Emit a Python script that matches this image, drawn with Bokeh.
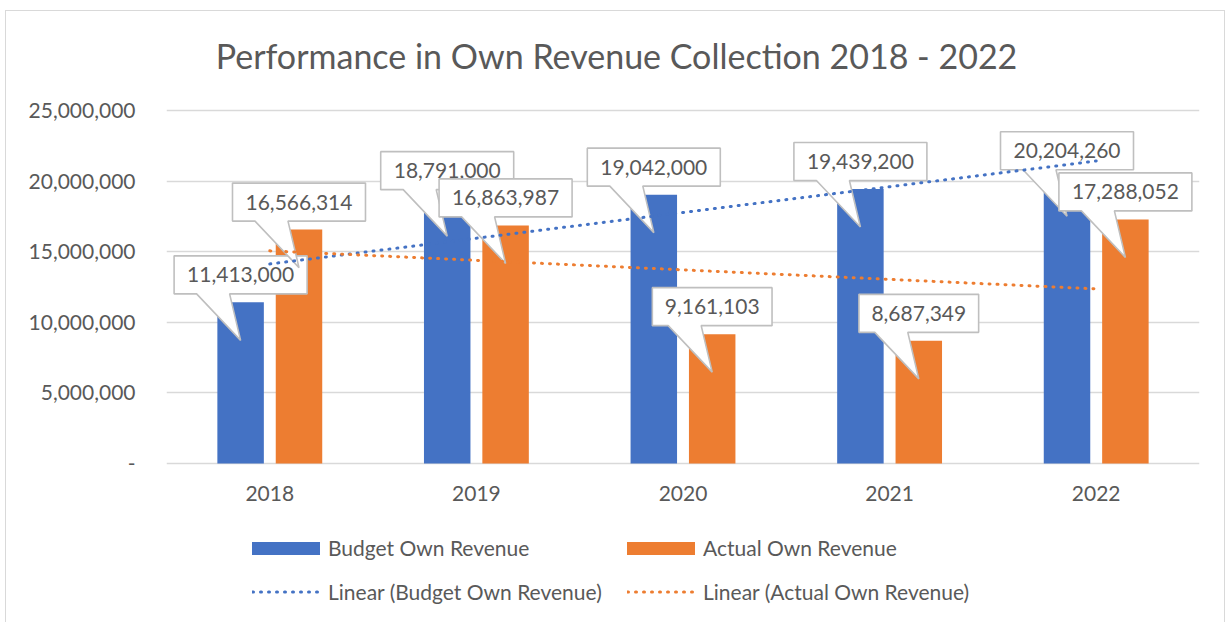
import numpy as np
from bokeh.plotting import figure
from bokeh.models import Range1d, NumeralTickFormatter, Legend, LegendItem, ColumnDataSource, Label
from bokeh.core.properties import value
from bokeh.embed import file_html
from bokeh.resources import INLINE

# ---------------- data ----------------
years = ["2018", "2019", "2020", "2021", "2022"]
budget = [11413000, 18791000, 19042000, 19439200, 20204260]
actual = [16566314, 16863987, 9161103, 8687349, 17288052]
y_ticks = [0, 5000000, 10000000, 15000000, 20000000, 25000000]
series_names = ["Budget Own Revenue", "Actual Own Revenue"]
trend_names = ["Linear (Budget Own Revenue)", "Linear (Actual Own Revenue)"]
TITLE = "Performance in Own Revenue Collection 2018 - 2022"

# ---------------- style ----------------
BLUE = "#4472C4"
ORANGE = "#ED7D31"
TXT = "#595959"
GRID = "#D9D9D9"
BOX_LINE = "#BFBFBF"
FONT = "Lato"
FS = "21px"

W, H = 1220, 612
ML, MR = 160, 27
FW = W - ML - MR          # 1033
TOP_PX = 99               # pixels from canvas top to the 25M gridline
VAL_PX = 353              # pixels covering 0 .. YMAX
YMAX = 25000000
n = len(years)
PXX = n / FW              # data units per pixel (x)
PXY = YMAX / VAL_PX       # data units per pixel (y)
Y_TOP = YMAX + TOP_PX * PXY
Y_BOT = -(H - TOP_PX - VAL_PX) * PXY

xs = np.arange(1, n + 1)
OFF = 0.1413
BW = 0.225

p = figure(width=W, height=H, output_backend="svg", toolbar_location=None,
           x_range=Range1d(0.5, n + 0.5), y_range=Range1d(Y_BOT, Y_TOP),
           min_border_left=ML, min_border_right=MR, min_border_top=0, min_border_bottom=0)
p.styles = {"border-top": "1px solid #D9D9D9", "border-left": "1px solid #D9D9D9",
            "border-right": "1px solid #D9D9D9",
            "margin-left": "5px", "margin-top": "10px"}
p.outline_line_color = None
p.background_fill_color = "white"
p.border_fill_color = "white"

# title (drawn inside the extended frame, centred on the whole chart)
title_x = 0.5 + (W / 2 - ML) * PXX
title_y = YMAX + (TOP_PX - 44) * PXY
p.add_layout(Label(x=title_x, y=title_y, text=TITLE, text_align="center",
                   text_baseline="middle", text_font=FONT, text_font_size="34px",
                   text_color=TXT))

# axes
p.xgrid.grid_line_color = None
p.ygrid.grid_line_color = GRID
p.ygrid.grid_line_width = 1.3
p.yaxis.ticker = y_ticks
p.yaxis.formatter = NumeralTickFormatter(format="0,0")
p.yaxis.major_label_overrides = {0: "-"}
p.xaxis.ticker = list(xs)
p.xaxis.major_label_overrides = {int(i): y for i, y in zip(xs, years)}
p.xaxis.fixed_location = 0
for ax in (p.xaxis[0], p.yaxis[0]):
    ax.axis_line_color = None
    ax.major_tick_line_color = None
    ax.minor_tick_line_color = None
    ax.major_tick_out = 0
    ax.major_tick_in = 0
    ax.major_label_text_font = FONT
    ax.major_label_text_font_size = FS
    ax.major_label_text_color = TXT
p.yaxis.major_label_standoff = 31
p.xaxis.major_label_standoff = 22

# bars
src_b = ColumnDataSource(dict(x=xs - OFF, top=budget))
src_a = ColumnDataSource(dict(x=xs + OFF, top=actual))
rb = p.vbar(x="x", top="top", bottom=0, width=BW, source=src_b, fill_color=BLUE, line_color=None)
ra = p.vbar(x="x", top="top", bottom=0, width=BW, source=src_a, fill_color=ORANGE, line_color=None)


# callouts
def callouts(xc_list, vals):
    px, py, tx, ty, labs = [], [], [], [], []
    for xc, v in zip(xc_list, vals):
        lab = f"{v:,}"
        half = 6.65 * len(lab) * PXX
        b = v + 8.5 * PXY
        t = b + 38 * PXY
        tip = v - 38 * PXY
        w0 = xc - 44 * PXX
        w1 = xc - 11 * PXX
        px.append([xc - half, w0, xc, w1, xc + half, xc + half, xc - half])
        py.append([b, b, tip, b, b, t, t])
        tx.append(xc)
        ty.append((b + t) / 2)
        labs.append(lab)
    p.patches(xs=px, ys=py, fill_color="white", line_color=BOX_LINE, line_width=1.6)
    p.text(x=tx, y=ty, text=labs, text_align="center", text_baseline="middle",
           text_font=value(FONT), text_font_size=FS, text_color=TXT)


callouts(list(xs - OFF), budget)
callouts(list(xs + OFF), actual)

# trendlines (least squares fit of each series)
xt = np.array([xs[0], xs[-1]], dtype=float)
cb = np.polyfit(xs, budget, 1)
ca = np.polyfit(xs, actual, 1)
rtb = p.line(x=xt, y=np.polyval(cb, xt), line_color=BLUE, line_width=3,
             line_dash="1 7", line_cap="round")
rta = p.line(x=xt, y=np.polyval(ca, xt), line_color=ORANGE, line_width=3,
             line_dash="1 7", line_cap="round")


# legends
def add_leg(r, label, vx, vy, gw, gh, standoff):
    lg = Legend(items=[LegendItem(label=label, renderers=[r])], location=(vx, vy),
                orientation="horizontal", padding=0, margin=0, border_line_color=None,
                background_fill_alpha=0, glyph_width=gw, glyph_height=gh, label_standoff=standoff,
                label_text_font=FONT, label_text_font_size=FS, label_text_color=TXT,
                label_height=13, spacing=0)
    p.add_layout(lg, "center")


vy1 = 63
vy2 = 19
add_leg(rb, series_names[0], 77, vy1, 85, 16, 0)
add_leg(ra, series_names[1], 452, vy1, 85, 16, 0)
add_leg(rtb, trend_names[0], 86, vy2, 68, 13, 8)
add_leg(rta, trend_names[1], 461, vy2, 68, 13, 8)

open("out.html", "w").write(file_html(p, INLINE))
